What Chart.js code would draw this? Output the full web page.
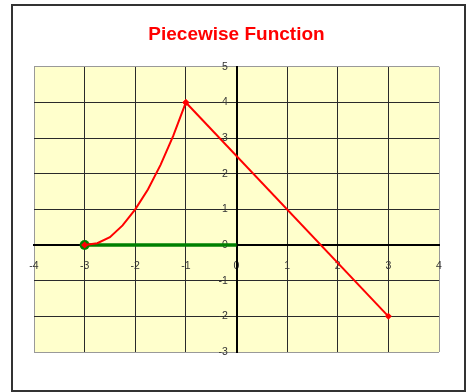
<html>

<head>
    <title>
        Piecewise Function
    </title>
    <script src="https://cdn.jsdelivr.net/npm/chart.js"></script>
    <style>
        body {
            margin: 0;
            background: #fff;
        }

        .frame {
            position: absolute;
            left: 11px;
            top: 4px;
            width: 451px;
            height: 384px;
            border: 2px solid #333;
        }

        .wrap {
            position: absolute;
            left: 0;
            top: 0;
            width: 469px;
            height: 392px;
        }
    </style>
</head>

<body>
    <div class="frame"></div>
    <div class="wrap"><canvas id="myChart" width="469" height="392"></canvas></div>

    <script>
        // values
        const xTicks = [-4, -3, -2, -1, 0, 1, 2, 3, 4]
        const yTicks = [-3, -2, -1, 0, 1, 2, 3, 4, 5]

        const curveX = [-3, -2.75, -2.5, -2.25, -2, -1.75, -1.5, -1.25, -1]
        const curveY = [0, 0.05, 0.22, 0.55, 1, 1.56, 2.25, 3.06, 4]

        const lineX = [-1, 3]
        const lineY = [4, -2]

        const flatX = [-3, 0]
        const flatY = [0, 0]

        function pts(xs, ys) {
            return xs.map((x, i) => ({ x: x, y: ys[i] }))
        }

        const plotBg = {
            id: 'plotBg',
            beforeDraw(chart) {
                const a = chart.chartArea
                const c = chart.ctx
                c.save()
                c.fillStyle = '#ffffcc'
                c.fillRect(a.left, a.top, a.width, a.height)
                c.restore()
            }
        }

        function gridColor(min, max) {
            return (c) => (c.tick && (c.tick.value === min || c.tick.value === max)) ? '#999999' : '#2a2a2a'
        }

        var ctx = document.getElementById("myChart").getContext('2d');

        var myChart = new Chart(ctx, {
            type: 'scatter',
            data: {
                datasets: [{
                    label: 'curve',
                    data: pts(curveX, curveY),
                    showLine: true,
                    borderColor: '#ff0000',
                    backgroundColor: '#ff0000',
                    borderWidth: 2,
                    pointStyle: 'rectRot',
                    pointRadius: curveX.map((x, i) => (i === 0 || i === curveX.length - 1) ? 3.5 : 0),
                    pointBorderWidth: 0
                },
                {
                    label: 'line',
                    data: pts(lineX, lineY),
                    showLine: true,
                    borderColor: '#ff0000',
                    backgroundColor: '#ff0000',
                    borderWidth: 2,
                    pointStyle: 'rectRot',
                    pointRadius: 3.5,
                    pointBorderWidth: 0
                },
                {
                    label: 'flat',
                    data: pts(flatX, flatY),
                    showLine: true,
                    borderColor: '#008000',
                    backgroundColor: '#008000',
                    borderWidth: 3.5,
                    pointRadius: [5, 0],
                    pointBorderWidth: 0
                }]
            },
            options: {
                responsive: false,
                animation: false,
                layout: {
                    padding: { left: 34, right: 30, top: 0, bottom: 40 }
                },
                plugins: {
                    legend: { display: false },
                    tooltip: { enabled: false },
                    title: {
                        display: true,
                        text: 'Piecewise Function',
                        color: '#ff0000',
                        font: { family: 'Liberation Sans, Arial', size: 19, weight: 'bold' },
                        padding: { top: 23, bottom: 21 }
                    }
                },
                scales: {
                    x: {
                        type: 'linear',
                        position: { y: 0 },
                        min: xTicks[0],
                        max: xTicks[xTicks.length - 1],
                        afterBuildTicks: (s) => { s.ticks = xTicks.map(v => ({ value: v })) },
                        ticks: {
                            color: '#333',
                            font: { family: 'Liberation Sans, Arial', size: 10.5 },
                            padding: 11
                        },
                        grid: { color: gridColor(-4, 4), lineWidth: 1, tickLength: 4 },
                        border: { color: '#000', width: 2 }
                    },
                    y: {
                        type: 'linear',
                        position: { x: 0 },
                        min: yTicks[0],
                        max: yTicks[yTicks.length - 1],
                        afterBuildTicks: (s) => { s.ticks = yTicks.map(v => ({ value: v })) },
                        ticks: {
                            color: '#333',
                            font: { family: 'Liberation Sans, Arial', size: 10.5 },
                            // positional axis labels sit on the axis line, so pad with spaces
                            callback: (v) => v + '   '
                        },
                        grid: { color: gridColor(-3, 5), lineWidth: 1, tickLength: 4 },
                        border: { color: '#000', width: 2 }
                    }
                }
            },
            plugins: [plotBg]
        });
    </script>
</body>

</html>
